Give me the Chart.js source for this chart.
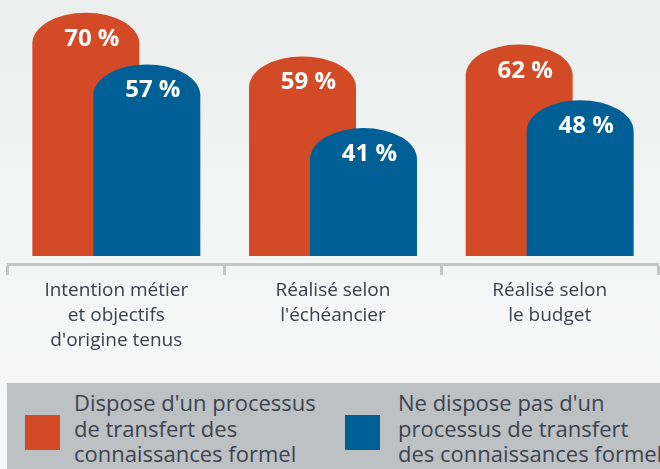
<!DOCTYPE html>
<html><head><meta charset="utf-8">
<script src="https://cdn.jsdelivr.net/npm/chart.js@4.4.1/dist/chart.umd.min.js"></script>
<style>
html,body{margin:0;padding:0;}
body{width:660px;height:469px;overflow:hidden;background:linear-gradient(180deg,#eceeee 0%,#f4f5f5 55%,#f8f8f8 100%);position:relative;font-family:'Open Sans',sans-serif;}
#wrap{position:absolute;left:0;top:0;width:660px;height:383px;}
#legend{position:absolute;left:7px;top:383px;width:653px;height:86px;background:#bec1c4;overflow:hidden;}
.sw{position:absolute;width:35px;height:35px;top:32px;}
.tx{position:absolute;top:7px;font-size:22px;line-height:25.5px;color:#3a4450;white-space:pre;}
</style></head><body>
<div id="wrap"><canvas id="c" width="660" height="383"></canvas></div>
<div id="legend"></div>
<script>
const categories = [["Intention métier","et objectifs","d'origine tenus"],["Réalisé selon","l'échéancier"],["Réalisé selon","le budget"]];
const seriesNames = [["Dispose d'un processus","de transfert des","connaissances formel"],["Ne dispose pas d'un","processus de transfert","des connaissances formel"]];
const withProcess = [70,59,62];
const withoutProcess = [57,41,48];

// Bars are drawn as domes (elliptical caps) from the library's own bar elements,
// in dataset order so the second series overlaps the first.
const domePlugin = {
  id:'dome',
  beforeDatasetDraw(){ return false; },
  afterDatasetsDraw(chart){
    const ctx = chart.ctx;
    ctx.save();
    chart.data.datasets.forEach((ds, di)=>{
      chart.getDatasetMeta(di).data.forEach((el, i)=>{
        const p = el.getProps(['x','y','base','width'], true);
        const rx = p.width/2, ry = 31;
        ctx.fillStyle = el.options.backgroundColor;
        ctx.beginPath();
        ctx.moveTo(p.x-rx, p.base);
        ctx.lineTo(p.x-rx, p.y+ry);
        ctx.ellipse(p.x, p.y+ry, rx, ry, 0, Math.PI, 2*Math.PI);
        ctx.lineTo(p.x+rx, p.base);
        ctx.closePath();
        ctx.fill();
        ctx.fillStyle = '#ffffff';
        ctx.font = 'bold 24px "Open Sans"';
        ctx.textAlign = 'center';
        ctx.textBaseline = 'alphabetic';
        ctx.fillText(ds.data[i] + ' %', p.x + 6, p.y + 33);
      });
    });
    ctx.restore();
  }
};

const axisGray = '#c4c6c8';
const chart = new Chart(document.getElementById('c'), {
  type:'bar',
  data:{
    labels: categories,
    datasets:[
      {label: seriesNames[0].join('\n'), data: withProcess, backgroundColor:'#d34a27', base: 8.8, categoryPercentage:0.563, barPercentage:1.754},
      {label: seriesNames[1].join('\n'), data: withoutProcess, backgroundColor:'#006096', base: 8.8, categoryPercentage:0.563, barPercentage:1.754}
    ]
  },
  options:{
    responsive:false, animation:false,
    layout:{padding:{left:8,right:2,top:0,bottom:0}},
    plugins:{legend:{display:false}, tooltip:{enabled:false}},
    scales:{
      y:{display:false, min:6.8, max:73.2},
      x:{
        grid:{offset:true, drawOnChartArea:false, drawTicks:true, tickLength:11, tickWidth:3, tickColor:axisGray, color:axisGray},
        border:{display:true, color:axisGray, width:3},
        ticks:{color:'#38424e', font:{family:'Open Sans', size:19, lineHeight:1.32}, padding:3, maxRotation:0, autoSkip:false},
        afterFit(s){ s.height = 119; }
      }
    }
  },
  plugins:[domePlugin]
});

// HTML legend built from the chart's datasets
const legend = document.getElementById('legend');
const swX = [18, 338], txX = [67, 391];
chart.data.datasets.forEach((ds, i)=>{
  const sw = document.createElement('div');
  sw.className = 'sw'; sw.style.left = swX[i] + 'px'; sw.style.background = ds.backgroundColor;
  const tx = document.createElement('div');
  tx.className = 'tx'; tx.style.left = txX[i] + 'px'; tx.textContent = ds.label;
  legend.appendChild(sw); legend.appendChild(tx);
});
</script>
</body></html>
